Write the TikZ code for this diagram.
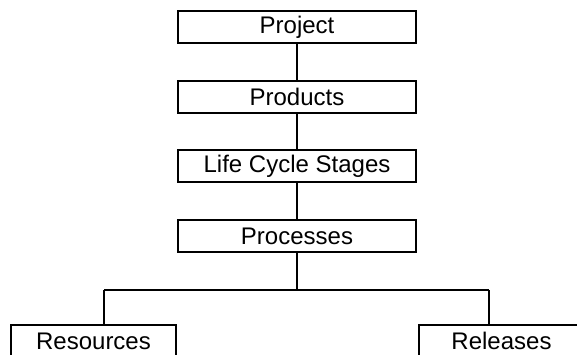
\documentclass[tikz,border=0pt]{standalone}
\usepackage{fontspec}
\setmainfont{Liberation Sans}
\usepackage{tikz}
\usetikzlibrary{positioning}

\begin{document}
\begin{tikzpicture}[x=1pt,y=-1pt,line width=2pt,
  box/.style={draw,minimum width=238pt,minimum height=32pt,inner sep=0pt,font=\fontsize{24}{28}\selectfont},
  leaf/.style={box,minimum width=165pt}]
\useasboundingbox (0,0) rectangle (577,355);
\clip (0,0) rectangle (577,355);
\node[box] (project) at (297,27) {Project};
\node[box] (products) at (297,97) {Products};
\node[box] (stages) at (297,166.5) {Life Cycle Stages};
\node[box] (processes) at (297,236) {Processes};
\node[leaf] (resources) at (93.5,341) {Resources};
\node[leaf] (releases) at (501.5,341) {Releases};
\coordinate (busL) at (104,290);
\coordinate (busR) at (489,290);
\draw (project) -- (products);
\draw (products) -- (stages);
\draw (stages) -- (processes);
\draw (processes) -- (processes |- busL);
\draw (busL) -- (busR);
\draw (busL) -- (busL |- resources.north);
\draw (busR) -- (busR |- releases.north);
\end{tikzpicture}
\end{document}
